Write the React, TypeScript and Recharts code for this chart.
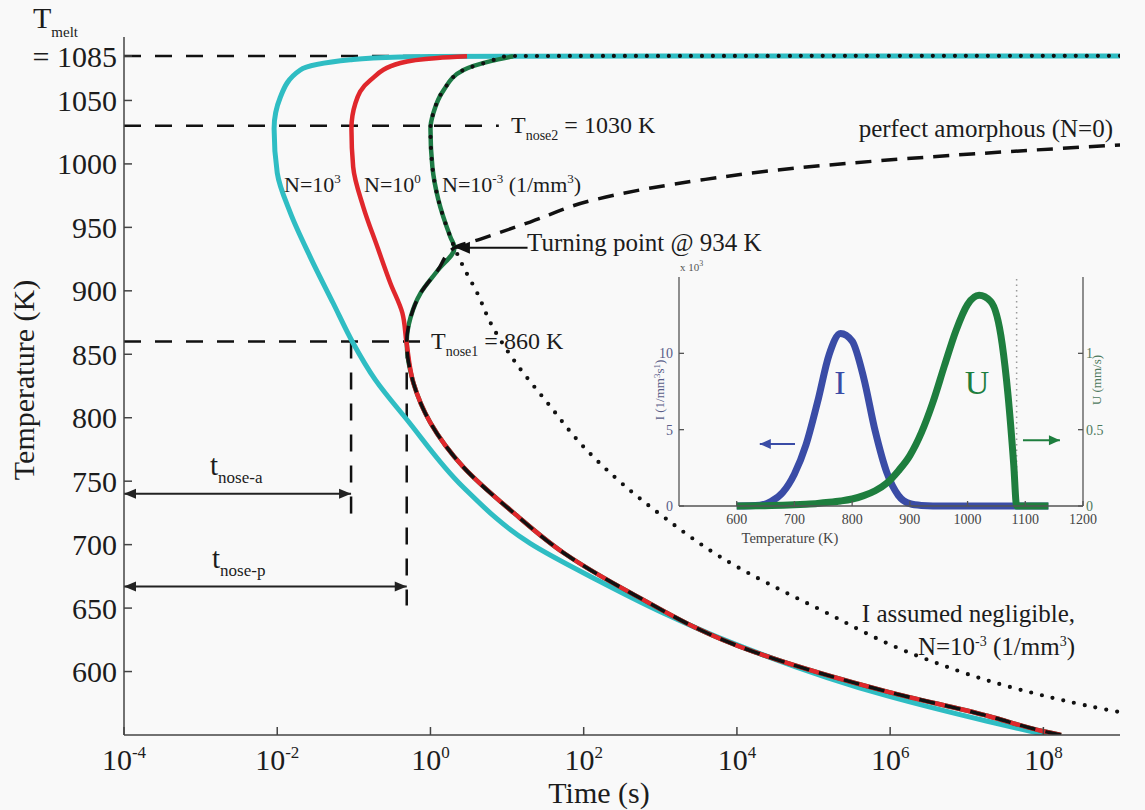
import { LineChart, Line, XAxis, YAxis, ReferenceLine } from 'recharts'

const FONT = '"Liberation Serif", "Times New Roman", serif'
const INK = '#1c1c1c'

// main TTT diagram: time (s) on log axis, temperature (K)
const timeTicks = [1e-4, 1e-2, 1, 1e2, 1e4, 1e6, 1e8]
const tempTicks = [600, 650, 700, 750, 800, 850, 900, 950, 1000, 1050, 1085]

// N = 10^3 (1/mm^3)
const n3Time = [1e9, 1e3, 10, 1, 0.4, 0.09, 0.02, 0.011, 0.0091, 0.01, 0.0148, 0.027, 0.054, 0.096, 0.19, 0.5, 2.7, 20, 152, 1110, 8300, 9e5, 1.8e7, 1.1e8]
const n3Temp = [1085, 1084.95, 1084.9, 1084.7, 1084.3, 1082, 1074, 1052.7, 1028, 993, 961.6, 926.6, 890, 859.7, 830, 798, 745, 701, 672, 646, 623, 581, 561, 550]

// N = 10^0
const n0Time = [3, 1.24, 0.405, 0.164, 0.105, 0.093, 0.098, 0.133, 0.203, 0.3, 0.43, 0.485, 0.6, 1.0, 2.7, 12.2, 55, 411, 1.67e4, 9.4e5, 1.9e7, 1e8, 1.7e8]
const n0Temp = [1084.8, 1083.5, 1079.5, 1066, 1048, 1028, 997.6, 966, 934.5, 906, 882.5, 860, 827.3, 796, 761, 725, 693.4, 662, 615.5, 584, 565, 553, 550]

// N = 10^-3
const nm3Time = [12, 6.1, 2.7, 1.48, 1.09, 1.0, 1.06, 1.27, 1.82, 2.06, 1.24, 0.74, 0.55, 0.49, 0.6, 1.0, 2.7, 12.2, 55, 411, 1.67e4, 9.4e5, 1.9e7, 1e8, 1.7e8]
const nm3Temp = [1084.8, 1081, 1074, 1058, 1040, 1028, 997.6, 971.6, 942.4, 934, 916, 898, 879, 860, 827.3, 796, 761, 725, 693.4, 662, 615.5, 584, 565, 553, 550]

// perfect amorphous (N = 0)
const amorphTime = [1.7e8, 1e8, 1.9e7, 9.4e5, 1.67e4, 411, 55, 12.2, 2.7, 1.0, 0.6, 0.49, 0.55, 0.74, 1.24, 2.06, 4.5, 20, 135, 752, 3390, 3.4e4, 3.1e6, 1e9]
const amorphTemp = [550, 553, 565, 584, 615.5, 662, 693.4, 725, 761, 796, 827.3, 860, 879, 898, 916, 934, 940.8, 954.2, 971.6, 981, 987.3, 995.2, 1005.4, 1015]

// I assumed negligible, N = 10^-3
const noNuclTime = [1e9, 10, 6.1, 2.7, 1.48, 1.09, 1.0, 1.06, 1.27, 1.82, 2.06, 2.7, 4.1, 6.1, 12.2, 33.8, 100, 333, 1110, 6200, 1.25e5, 2.5e6, 5.2e7, 7.1e8, 1e9]
const noNuclTemp = [1085.2, 1085, 1081, 1074, 1058, 1040, 1028, 997.6, 971.6, 942.4, 934, 918.7, 898, 874.6, 845.5, 811.6, 777, 747, 721.7, 690, 648.5, 611.4, 585.4, 569.7, 568]

// inset: nucleation rate I (x10^3) and growth rate U vs temperature
const insetTemp = [600, 640, 660, 680, 700, 720, 740, 760, 780, 800, 820, 840, 860, 880, 900, 920, 940, 960, 980, 1000, 1020, 1040, 1060, 1070, 1080, 1085, 1100, 1120, 1140]
const insetI = [0, 0.05, 0.3, 0.9, 2.1, 4.0, 6.8, 9.9, 11.3, 10.8, 8.4, 4.9, 2.2, 0.7, 0.15, 0.03, 0, 0, 0, 0, 0, 0, 0, 0, 0, 0, 0, 0, 0]
const insetU = [0, 0.002, 0.003, 0.005, 0.008, 0.012, 0.017, 0.024, 0.033, 0.046, 0.068, 0.1, 0.15, 0.23, 0.33, 0.48, 0.68, 0.92, 1.15, 1.32, 1.38, 1.34, 1.06, 0.73, 0.27, 0, 0, 0, 0]
const insetTempTicks = [600, 700, 800, 900, 1000, 1100, 1200]

const zip = (ts: number[], Ts: number[]) => ts.map((t, i) => ({ t, T: Ts[i] }))
const insetRows = insetTemp.map((T, i) => ({ T, I: insetI[i], U: insetU[i] }))

const axisStyle = { stroke: '#444', strokeWidth: 1.5 }
const refDash = { stroke: '#111', strokeWidth: 2.5, strokeDasharray: '17 14' }

function arrow(both: boolean, color: string, len = 12, half = 5, width = 2) {
  return (p: any) => {
    const { x1, y1, x2, y2 } = p
    const a = Math.atan2(y2 - y1, x2 - x1)
    const head = (x: number, y: number, ang: number) => {
      const c = Math.cos(ang)
      const s = Math.sin(ang)
      return `M${x},${y} L${x - len * c + half * s},${y - len * s - half * c} L${x - len * c - half * s},${y - len * s + half * c} Z`
    }
    return (
      <g>
        <line x1={x1} y1={y1} x2={x2} y2={y2} stroke={color} strokeWidth={width} />
        <path d={head(x2, y2, a)} fill={color} />
        {both && <path d={head(x1, y1, a + Math.PI)} fill={color} />}
      </g>
    )
  }
}

function TempTick({ x, y, payload }: any) {
  const v = payload.value
  if (v === 1085) {
    return (
      <g>
        <text x={x} y={y} dy="0.35em" textAnchor="end" fontSize={30} fontFamily={FONT} fill={INK}>= 1085</text>
        <text x={x - 84} y={y - 28} fontSize={30} fontFamily={FONT} fill={INK}>
          T<tspan fontSize={15} dy={9}>melt</tspan>
        </text>
      </g>
    )
  }
  return (
    <text x={x} y={y} dy="0.35em" textAnchor="end" fontSize={30} fontFamily={FONT} fill={INK}>{v}</text>
  )
}

function TimeTick({ x, y, payload }: any) {
  const e = Math.round(Math.log10(payload.value))
  return (
    <text x={x} y={y + 33} textAnchor="middle" fontSize={30} fontFamily={FONT} fill={INK}>
      10<tspan fontSize={17} dy={-12}>{e}</tspan>
    </text>
  )
}

function MainChart() {
  return (
    <LineChart width={1145} height={810} margin={{ top: 37, right: 25, bottom: 0, left: 0 }}>
      <XAxis dataKey="t" type="number" scale="log" domain={[1e-4, 1e9]} allowDataOverflow ticks={timeTicks}
        interval={0} height={75} tickSize={-8} tickMargin={10} tick={(p: any) => <TimeTick {...p} />}
        axisLine={axisStyle} tickLine={axisStyle} />
      <XAxis xAxisId="top" orientation="top" dataKey="t" type="number" scale="log" domain={[1e-4, 1e9]}
        allowDataOverflow ticks={timeTicks} interval={0} height={0} tickSize={-8} tick={false}
        axisLine={axisStyle} tickLine={axisStyle} />
      <YAxis type="number" domain={[550, 1100]} allowDataOverflow ticks={tempTicks} interval={0} width={124}
        tickSize={-8} tickMargin={15} tick={(p: any) => <TempTick {...p} />} axisLine={axisStyle} tickLine={axisStyle} />
      <YAxis yAxisId="right" orientation="right" type="number" domain={[550, 1100]} allowDataOverflow
        ticks={tempTicks} interval={0} width={0} tickSize={-8} tick={false} axisLine={axisStyle} tickLine={axisStyle} />

      <ReferenceLine segment={[{ x: 1e-4, y: 1085 }, { x: 8.7, y: 1085 }]} {...refDash} />
      <ReferenceLine segment={[{ x: 1e-4, y: 1030 }, { x: 7.8, y: 1030 }]} {...refDash} />
      <ReferenceLine segment={[{ x: 1e-4, y: 860 }, { x: 0.76, y: 860 }]} {...refDash} />
      <ReferenceLine segment={[{ x: 0.092, y: 860 }, { x: 0.092, y: 715 }]} {...refDash} />
      <ReferenceLine segment={[{ x: 0.49, y: 860 }, { x: 0.49, y: 652 }]} {...refDash} />

      <Line data={zip(n3Time, n3Temp)} dataKey="T" type="monotoneY" stroke="#2fbdc3" strokeWidth={5}
        dot={false} activeDot={false} isAnimationActive={false} />
      <Line data={zip(nm3Time, nm3Temp)} dataKey="T" type="monotoneY" stroke="#1d7a45" strokeWidth={4.5}
        dot={false} activeDot={false} isAnimationActive={false} />
      <Line data={zip(n0Time, n0Temp)} dataKey="T" type="monotoneY" stroke="#e0272c" strokeWidth={4.5}
        dot={false} activeDot={false} isAnimationActive={false} />
      <Line data={zip(amorphTime, amorphTemp)} dataKey="T" type="monotoneY" stroke="#111" strokeWidth={3.5}
        strokeDasharray="16 10" dot={false} activeDot={false} isAnimationActive={false} />
      <Line data={zip(noNuclTime, noNuclTemp)} dataKey="T" type="monotoneY" stroke="#111" strokeWidth={4.2}
        strokeDasharray="0 11" strokeLinecap="round" dot={false} activeDot={false} isAnimationActive={false} />

      <ReferenceLine segment={[{ x: 1e-4, y: 740 }, { x: 0.092, y: 740 }]} shape={arrow(true, '#222')} />
      <ReferenceLine segment={[{ x: 1e-4, y: 667 }, { x: 0.49, y: 667 }]} shape={arrow(true, '#222')} />
      <ReferenceLine segment={[{ x: 18.5, y: 934 }, { x: 2.15, y: 934 }]} shape={arrow(false, '#111', 14, 6)} />
    </LineChart>
  )
}

const insetTick = { fontSize: 14, fill: '#444', fontFamily: FONT }
const insetAxis = { stroke: '#555', strokeWidth: 1.3 }

function InsetChart() {
  return (
    <LineChart width={520} height={290} data={insetRows} margin={{ top: 27, right: 0, bottom: 0, left: 0 }}>
      <XAxis dataKey="T" type="number" domain={[500, 1200]} ticks={insetTempTicks} interval={0} height={34}
        tickSize={-5} tickMargin={13} tick={insetTick} axisLine={insetAxis} tickLine={insetAxis} />
      <XAxis xAxisId="top" orientation="top" dataKey="T" type="number" domain={[500, 1200]} height={0}
        tick={false} tickLine={false} axisLine={insetAxis} />
      <YAxis type="number" domain={[0, 15]} ticks={[0, 5, 10]} interval={0} width={79} tickSize={-5}
        tickMargin={11} tick={{ ...insetTick, fill: '#595d88' }} axisLine={insetAxis} tickLine={insetAxis} />
      <YAxis yAxisId="U" orientation="right" type="number" domain={[0, 1.5]} ticks={[0, 0.5, 1]} interval={0}
        width={37} tickSize={-5} tickMargin={8} tick={{ ...insetTick, fill: '#4f7a60' }}
        axisLine={insetAxis} tickLine={insetAxis} />
      <ReferenceLine x={1085} stroke="#9a9a9a" strokeWidth={1.5} strokeDasharray="1.5 4" />
      <Line dataKey="I" type="monotone" stroke="#3a4ca6" strokeWidth={7} dot={false} activeDot={false}
        isAnimationActive={false} />
      <Line dataKey="U" yAxisId="U" type="monotone" stroke="#1e7e3e" strokeWidth={7} dot={false}
        activeDot={false} isAnimationActive={false} />
      <ReferenceLine segment={[{ x: 701, y: 4.06 }, { x: 640, y: 4.06 }]} shape={arrow(false, '#3a4ca6', 11, 5, 2)} />
      <ReferenceLine yAxisId="U" segment={[{ x: 1096, y: 0.43 }, { x: 1160, y: 0.43 }]}
        shape={arrow(false, '#1e7e3e', 11, 5, 2)} />
    </LineChart>
  )
}

function Notes() {
  const t = { fontFamily: FONT, fill: INK }
  return (
    <svg width={1145} height={810} style={{ position: 'absolute', left: 0, top: 0, pointerEvents: 'none' }}>
      <text {...t} x={511} y={133} fontSize={24}>
        T<tspan fontSize={14} dy={7}>nose2</tspan><tspan dy={-7}> = 1030 K</tspan>
      </text>
      <text {...t} x={431} y={349} fontSize={24}>
        T<tspan fontSize={14} dy={7}>nose1</tspan><tspan dy={-7}> = 860 K</tspan>
      </text>
      <text {...t} x={1113} y={137} fontSize={25} textAnchor="end">perfect amorphous (N=0)</text>
      <text {...t} x={284} y={192} fontSize={22}>N=10<tspan fontSize={13} dy={-9}>3</tspan></text>
      <text {...t} x={364} y={192} fontSize={22}>N=10<tspan fontSize={13} dy={-9}>0</tspan></text>
      <text {...t} x={442} y={192} fontSize={22}>
        N=10<tspan fontSize={13} dy={-9}>-3</tspan><tspan dy={9}> (1/mm</tspan><tspan fontSize={13} dy={-9}>3</tspan><tspan dy={9}>)</tspan>
      </text>
      <text {...t} x={527} y={251} fontSize={25}>Turning point @ 934 K</text>
      <text {...t} x={210} y={475} fontSize={29}>t<tspan fontSize={17} dy={8}>nose-a</tspan></text>
      <text {...t} x={212} y={568} fontSize={29}>t<tspan fontSize={17} dy={8}>nose-p</tspan></text>
      <text {...t} x={1075} y={622} fontSize={25} textAnchor="end">I assumed negligible,</text>
      <text {...t} x={1075} y={655} fontSize={25} textAnchor="end">
        N=10<tspan fontSize={14} dy={-9}>-3</tspan><tspan dy={9}> (1/mm</tspan><tspan fontSize={14} dy={-9}>3</tspan><tspan dy={9}>)</tspan>
      </text>
      <text {...t} x={34} y={380} fontSize={30} textAnchor="middle" transform="rotate(-90 34 380)">Temperature (K)</text>
      <text {...t} x={599} y={803} fontSize={30} textAnchor="middle">Time (s)</text>

      <text x={680} y={271} fontSize={11} fontFamily={FONT} fill="#555">x 10<tspan fontSize={8} dy={-5}>3</tspan></text>
      <text x={664} y={390} fontSize={13} fontFamily={FONT} fill="#595d88" textAnchor="middle"
        transform="rotate(-90 664 390)">I (1/mm<tspan fontSize={9} dy={-4}>3</tspan><tspan dy={4}>s</tspan><tspan fontSize={9} dy={-4}>1</tspan><tspan dy={4}>)</tspan></text>
      <text x={1101} y={380} fontSize={13} fontFamily={FONT} fill="#4f7a60" textAnchor="middle"
        transform="rotate(-90 1101 380)">U (mm/s)</text>
      <text x={790} y={543} fontSize={14.5} fontFamily={FONT} fill="#444" textAnchor="middle">Temperature (K)</text>
      <text x={840} y={394} fontSize={34} fontFamily={FONT} fill="#3a4ca6" textAnchor="middle">I</text>
      <text x={977} y={394} fontSize={34} fontFamily={FONT} fill="#1e7e3e" textAnchor="middle">U</text>
    </svg>
  )
}

export default function App() {
  return (
    <div style={{ position: 'fixed', left: 0, top: 0, width: 1145, height: 810, background: '#f9f9f9' }}>
      <div style={{ position: 'absolute', left: 0, top: 0 }}>
        <MainChart />
      </div>
      <div style={{ position: 'absolute', left: 600, top: 250 }}>
        <InsetChart />
      </div>
      <Notes />
    </div>
  )
}
